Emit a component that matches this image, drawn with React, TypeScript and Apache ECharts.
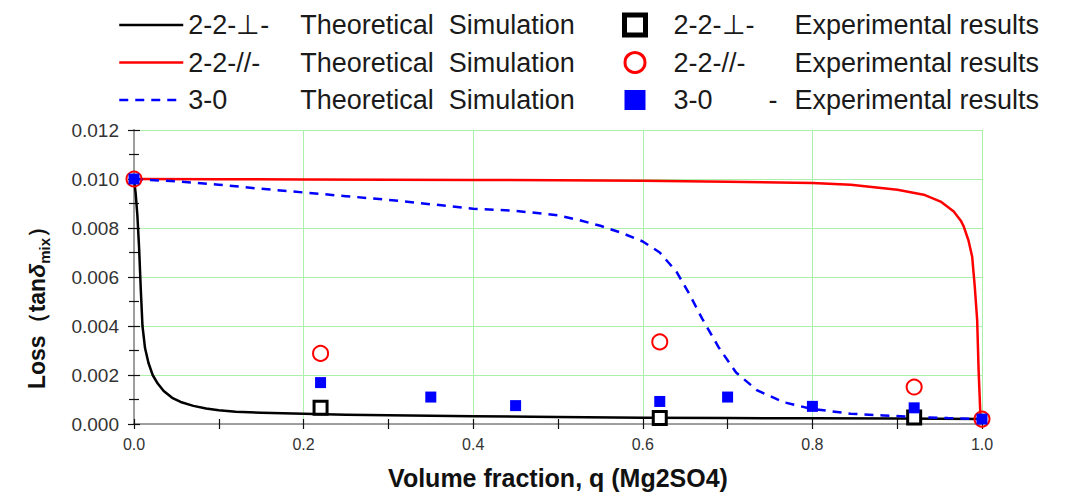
import React, { useEffect, useRef } from 'react';
import * as echarts from 'echarts';

// ---- Data ----
// 2-2-⊥ theoretical simulation
const perpTheoryX = [0, 0.002, 0.004, 0.006, 0.008, 0.010, 0.013, 0.017, 0.022, 0.028, 0.035, 0.045, 0.055, 0.07, 0.085, 0.1, 0.12, 0.15, 0.2, 0.25, 0.3, 0.4, 0.5, 0.6, 0.7, 0.8, 0.9, 1.0];
const perpTheoryY = [0.0100, 0.0094, 0.0085, 0.0072, 0.0055, 0.0040, 0.0031, 0.0025, 0.0020, 0.00165, 0.00135, 0.00107, 0.0009, 0.00074, 0.00063, 0.00056, 0.0005, 0.00046, 0.00042, 0.00038, 0.00036, 0.00032, 0.00029, 0.00026, 0.00024, 0.00023, 0.00022, 0.0002];

// 2-2-// theoretical simulation
const parTheoryX = [0, 0.1, 0.2, 0.3, 0.4, 0.5, 0.6, 0.7, 0.8, 0.8453, 0.9003, 0.9313, 0.9512, 0.9667, 0.975, 0.9785, 0.984, 0.9884, 0.9915, 0.9943, 0.996, 0.9982, 1.0];
const parTheoryY = [0.0100, 0.00999, 0.00998, 0.00997, 0.00996, 0.00995, 0.00993, 0.00989, 0.00984, 0.00977, 0.00956, 0.00936, 0.00908, 0.00867, 0.0083, 0.00806, 0.0075, 0.00683, 0.0056, 0.00424, 0.0022, 0.00028, 0.0002];

// 3-0 theoretical simulation
const s30TheoryX = [0, 0.05, 0.1, 0.15, 0.2, 0.25, 0.3, 0.35, 0.4, 0.45, 0.5, 0.525, 0.55, 0.575, 0.6, 0.62, 0.64, 0.655, 0.67, 0.69, 0.71, 0.735, 0.766, 0.7975, 0.845, 0.884, 0.923, 0.96, 1.0];
const s30TheoryY = [0.0100, 0.0099, 0.00977, 0.0096, 0.00945, 0.0093, 0.00915, 0.00897, 0.00879, 0.0087, 0.00852, 0.00832, 0.00809, 0.0078, 0.00745, 0.007, 0.0062, 0.0053, 0.0043, 0.0031, 0.0021, 0.00137, 0.00089, 0.00063, 0.00042, 0.00035, 0.00028, 0.00024, 0.0002];

// Experimental results
const perpExpX = [0, 0.22, 0.62, 0.92];
const perpExpY = [0.0121, 0.00066, 0.00025, 0.00027];
const parExpX = [0, 0.22, 0.62, 0.92, 1.0];
const parExpY = [0.0100, 0.00288, 0.00335, 0.00151, 0.0002];
const s30ExpX = [0, 0.22, 0.35, 0.45, 0.62, 0.70, 0.80, 0.92, 1.0];
const s30ExpY = [0.0100, 0.00169, 0.0011, 0.00075, 0.00092, 0.0011, 0.00072, 0.00066, 0.0002];

const N_PERP_T = '2-2-⊥- Theoretical Simulation';
const N_PAR_T = '2-2-//- Theoretical Simulation';
const N_30_T = '3-0 Theoretical Simulation';
const N_PERP_E = '2-2-⊥- Experimental results';
const N_PAR_E = '2-2-//- Experimental results';
const N_30_E = '3-0 - Experimental results';

const legendLabels: Record<string, string> = {
  [N_PERP_T]: '{a|2-2-⊥-}{b|Theoretical\u00a0\u00a0Simulation}',
  [N_PAR_T]: '{a|2-2-//-}{b|Theoretical\u00a0\u00a0Simulation}',
  [N_30_T]: '{a|3-0}{b|Theoretical\u00a0\u00a0Simulation}',
  [N_PERP_E]: '{e|2-2-⊥-}{b|Experimental results}',
  [N_PAR_E]: '{e|2-2-//-}{b|Experimental results}',
  [N_30_E]: '{f|3-0}{c|-}{b|Experimental results}',
};

const zip = (xs: number[], ys: number[]) => xs.map((x, i) => [x, ys[i]]);

const FONT = '"Liberation Sans", Arial, Helvetica, sans-serif';

export default function App() {
  const ref = useRef<HTMLDivElement>(null);
  useEffect(() => {
    if (!ref.current) return;
    const chart = echarts.init(ref.current, null, { renderer: 'svg' });
    const txt = { fontSize: 27, fontFamily: FONT, color: '#1a1a1a' };
    const legendText = {
      ...txt,
      lineHeight: 30,
      rich: {
        a: { ...txt, width: 112 },
        e: { ...txt, width: 121, padding: [0, 0, 0, 23] },
        f: { ...txt, width: 95, padding: [0, 0, 0, 23] },
        c: { ...txt, width: 26 },
        b: { ...txt },
      },
    };
    const baseX = { type: 'value' as const, min: 0, max: 1, interval: 0.2 };
    const baseY = { type: 'value' as const, min: 0, max: 0.012, interval: 0.002 };
    const tickStyle = { color: '#111', width: 1.2 };
    const option: any = {
      animation: false,
      backgroundColor: '#fff',
      grid: { left: 134, right: 101, top: 130, bottom: 77, containLabel: false },
      legend: [
        {
          data: [N_PERP_T, N_PAR_T, N_30_T],
          orient: 'vertical',
          left: 113,
          top: 5,
          itemWidth: 64,
          itemHeight: 14,
          itemGap: 7.5,
          selectedMode: false,
          itemStyle: { opacity: 0 },
          lineStyle: { width: 2.5 },
          textStyle: legendText,
          formatter: (n: string) => legendLabels[n],
        },
        {
          data: [
            { name: N_PERP_E, itemStyle: { color: '#fff', borderColor: '#000', borderWidth: 5 } },
            { name: N_PAR_E, itemStyle: { color: '#fff', borderColor: '#ff0000', borderWidth: 3 } },
            { name: N_30_E, itemStyle: { color: '#0000ff', borderWidth: 0, opacity: 1 } },
          ],
          orient: 'vertical',
          left: 617,
          top: 5,
          itemWidth: 21,
          itemHeight: 20,
          itemGap: 7.5,
          selectedMode: false,
          textStyle: legendText,
          formatter: (n: string) => legendLabels[n],
        },
      ],
      xAxis: [
        {
          ...baseX,
          position: 'bottom',
          axisLine: { show: true, lineStyle: { color: '#111', width: 1.5 } },
          axisTick: { show: true, inside: false, length: 5, lineStyle: tickStyle },
          minorTick: { show: true, splitNumber: 2, length: 5, lineStyle: tickStyle },
          splitLine: { show: true, lineStyle: { color: '#aaf0aa', width: 1 } },
          axisLabel: {
            margin: 12,
            fontSize: 16,
            fontFamily: '"Liberation Sans Narrow", "Liberation Sans", Arial, sans-serif',
            color: '#333',
            formatter: (v: number) => v.toFixed(1),
          },
          name: 'Volume fraction, q (Mg2SO4)',
          nameLocation: 'middle',
          nameGap: 41,
          nameTextStyle: { fontSize: 25, fontWeight: 'bold', fontFamily: FONT, color: '#111' },
        },
        {
          ...baseX,
          position: 'bottom',
          axisLine: { show: false },
          axisTick: { show: true, inside: true, length: 5, lineStyle: tickStyle },
          minorTick: { show: true, splitNumber: 2, length: 5, lineStyle: tickStyle },
          splitLine: { show: false },
          axisLabel: { show: false },
        },
        {
          ...baseX,
          position: 'top',
          axisLine: { show: true, lineStyle: { color: '#bdbdbd', width: 1.5 } },
          axisTick: { show: false },
          splitLine: { show: false },
          axisLabel: { show: false },
        },
      ],
      yAxis: [
        {
          ...baseY,
          position: 'left',
          axisLine: { show: true, lineStyle: { color: '#111', width: 1.5 } },
          axisTick: { show: true, inside: false, length: 6, lineStyle: tickStyle },
          minorTick: { show: true, splitNumber: 2, length: 5, lineStyle: tickStyle },
          splitLine: { show: true, lineStyle: { color: '#aaf0aa', width: 1 } },
          axisLabel: {
            margin: 15,
            fontSize: 19,
            fontFamily: FONT,
            color: '#333',
            formatter: (v: number) => v.toFixed(3),
          },
        },
        {
          ...baseY,
          position: 'left',
          axisLine: { show: false },
          axisTick: { show: true, inside: true, length: 6, lineStyle: tickStyle },
          minorTick: { show: true, splitNumber: 2, length: 5, lineStyle: tickStyle },
          splitLine: { show: false },
          axisLabel: { show: false },
        },
        {
          ...baseY,
          position: 'right',
          axisLine: { show: true, lineStyle: { color: '#bdbdbd', width: 1.5 } },
          axisTick: { show: false },
          splitLine: { show: false },
          axisLabel: { show: false },
        },
      ],
      graphic: [
        {
          type: 'text',
          x: 37,
          y: 302,
          rotation: Math.PI / 2,
          style: {
            text: '{a|Loss（tan}{d|δ}{b|mix}{a|）}',
            align: 'center',
            verticalAlign: 'middle',
            rich: {
              a: { fontSize: 23, fontWeight: 'bold', fontFamily: FONT, fill: '#111', lineHeight: 30, verticalAlign: 'middle' },
              d: { fontSize: 23, fontWeight: 'bold', fontStyle: 'italic', fontFamily: FONT, fill: '#111', lineHeight: 30, verticalAlign: 'middle' },
              b: { fontSize: 15, fontWeight: 'bold', fontFamily: FONT, fill: '#111', lineHeight: 30, verticalAlign: 'bottom', padding: [14, 0, 0, 0] },
            },
          },
        },
      ],
      series: [
        {
          name: N_PERP_T,
          type: 'line',
          data: zip(perpTheoryX, perpTheoryY),
          symbol: 'none',
          smooth: false,
          lineStyle: { color: '#000', width: 2.5, join: 'round' },
          itemStyle: { color: '#000' },
          z: 3,
        },
        {
          name: N_PAR_T,
          type: 'line',
          data: zip(parTheoryX, parTheoryY),
          symbol: 'none',
          smooth: false,
          lineStyle: { color: '#ff0000', width: 2.5, join: 'round' },
          itemStyle: { color: '#ff0000' },
          z: 3,
        },
        {
          name: N_30_T,
          type: 'line',
          data: zip(s30TheoryX, s30TheoryY),
          symbol: 'none',
          smooth: false,
          lineStyle: { color: '#0000ff', width: 2.5, type: [9, 7] },
          itemStyle: { color: '#0000ff' },
          z: 3,
        },
        {
          name: N_PERP_E,
          type: 'scatter',
          data: zip(perpExpX, perpExpY),
          symbol: 'rect',
          symbolSize: 13,
          itemStyle: { color: '#fff', borderColor: '#000', borderWidth: 3, opacity: 1 },
          z: 4,
        },
        {
          name: N_PAR_E,
          type: 'scatter',
          data: zip(parExpX, parExpY),
          symbol: 'circle',
          symbolSize: 15,
          itemStyle: { color: 'rgba(255,255,255,0)', borderColor: '#ff0000', borderWidth: 2, opacity: 1 },
          z: 5,
        },
        {
          name: N_30_E,
          type: 'scatter',
          data: zip(s30ExpX, s30ExpY),
          symbol: 'rect',
          symbolSize: 11,
          itemStyle: { color: '#0000ff', opacity: 1 },
          z: 6,
        },
      ],
    };
    chart.setOption(option);
    return () => chart.dispose();
  }, []);
  return (
    <div
      ref={ref}
      style={{ position: 'fixed', left: 0, top: 0, width: 1083, height: 501, background: '#fff' }}
    />
  );
}
